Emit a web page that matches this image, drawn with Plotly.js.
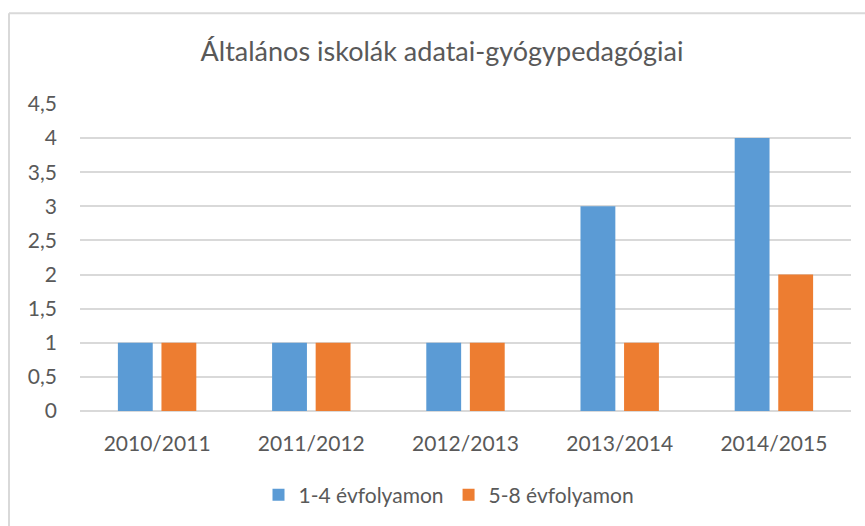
<!DOCTYPE html>
<html>
<head>
<meta charset="utf-8">
<script src="https://cdn.plot.ly/plotly-3.0.1.min.js"></script>
<style>html,body{margin:0;padding:0;background:#fff;}#chart{width:865px;height:526px;}</style>
</head>
<body>
<div id="chart"></div>
<script>
const categories = ["2010/2011", "2011/2012", "2012/2013", "2013/2014", "2014/2015"];
const series1Name = "1-4 évfolyamon";
const series1Values = [1, 1, 1, 3, 4];
const series2Name = "5-8 évfolyamon";
const series2Values = [1, 1, 1, 1, 2];
const tickValues = [0, 0.5, 1, 1.5, 2, 2.5, 3, 3.5, 4, 4.5];
const tickLabels = ["0", "0,5", "1", "1,5", "2", "2,5", "3", "3,5", "4", "4,5"];

const font = "Lato, 'Open Sans', sans-serif";
const txt = "#595959";

const traces = [
  {type: "bar", name: series1Name, x: categories, y: series1Values, marker: {color: "#5b9bd5"}, hoverinfo: "x+y"},
  {type: "bar", name: series2Name, x: categories, y: series2Values, marker: {color: "#ed7d31"}, hoverinfo: "x+y"}
];

const L = 80, R = 14, T = 104, B = 114;
const W = 865 - L - R, H = 526 - T - B;
const px2x = p => (p - L) / W;
const px2y = p => 1 - (p - T) / H;

const layout = {
  width: 865, height: 526,
  margin: {l: L, r: R, t: T, b: B},
  paper_bgcolor: "#fff", plot_bgcolor: "#fff",
  font: {family: font, color: txt, size: 21},
  title: {text: "Általános iskolák adatai-gyógypedagógiai", font: {family: font, size: 27, color: txt},
          x: px2x(442), xref: "paper", xanchor: "center", y: 1 - 52/526, yref: "container", yanchor: "middle"},
  barmode: "group", bargap: 0.435, bargroupgap: 0.2,
  xaxis: {type: "category", showgrid: false, zeroline: false, showline: false, ticks: "",
          ticklabelstandoff: 18, tickfont: {family: font, size: 21, color: txt}},
  yaxis: {range: [0, 4.5], tickvals: tickValues, ticktext: tickLabels, showgrid: true,
          gridcolor: "#d9d9d9", gridwidth: 2, zeroline: true, zerolinecolor: "#d9d9d9", zerolinewidth: 2,
          showline: false, ticks: "", ticklabelstandoff: 22, tickfont: {family: font, size: 21, color: txt}},
  showlegend: true,
  legend: {orientation: "h", x: px2x(449), xanchor: "center", y: px2y(495), yanchor: "middle",
           font: {family: font, size: 21, color: txt}, itemwidth: 30, traceorder: "normal"},
  shapes: [
    {type: "line", xref: "paper", yref: "paper", x0: px2x(9), x1: px2x(9), y0: px2y(540), y1: px2y(13), line: {color: "#d9d9d9", width: 2}},
    {type: "line", xref: "paper", yref: "paper", x0: px2x(9), x1: px2x(880), y0: px2y(13), y1: px2y(13), line: {color: "#d9d9d9", width: 2}}
  ]
};

Plotly.newPlot("chart", traces, layout, {displayModeBar: false, staticPlot: true});
</script>
</body>
</html>
